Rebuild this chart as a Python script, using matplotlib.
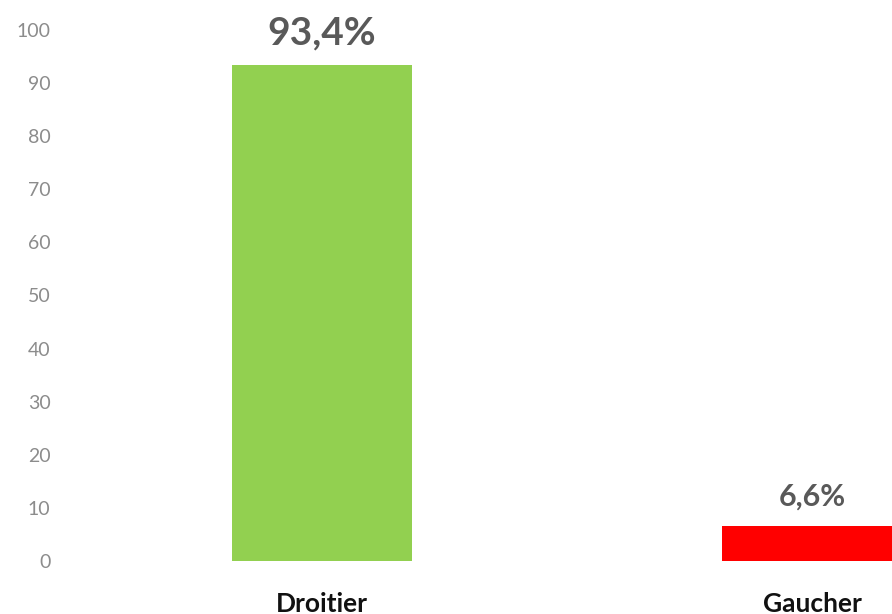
import matplotlib.pyplot as plt

# handedness split, in percent
categories = ['Droitier', 'Gaucher']
values = [93.4, 6.6]
value_labels = ['93,4%', '6,6%']
bar_colors = ['#92D050', '#FF0000']
y_ticks = [0, 10, 20, 30, 40, 50, 60, 70, 80, 90, 100]

plt.rcParams['font.family'] = ['Lato', 'DejaVu Sans']

fig = plt.figure(figsize=(8.92, 6.14), dpi=100)
ax = fig.add_axes([70 / 892, 53 / 614, 822 / 892, 531 / 614])

x = list(range(len(categories)))
bars = ax.bar(x, values, width=0.367, color=bar_colors, clip_on=False)

ax.set_xlim(-0.514, 1.163)
ax.set_ylim(0, 100)
ax.set_yticks(y_ticks)
ax.set_xticks(x)
ax.set_xticklabels(categories, fontsize=19, fontweight='bold', color='#111111')
ax.tick_params(axis='x', length=0, pad=22)
ax.tick_params(axis='y', length=0, pad=14, labelsize=14, labelcolor='#8c8c8c')

for spine in ax.spines.values():
    spine.set_visible(False)

# percentage labels above each bar
label_sizes = [28, 22]
for bar, text, size in zip(bars, value_labels, label_sizes):
    ax.annotate(text, (bar.get_x() + bar.get_width() / 2, bar.get_height()),
                xytext=(0, 15), textcoords='offset points',
                ha='center', va='baseline', fontsize=size,
                fontweight='bold', color='#595959', annotation_clip=False)

fig.savefig('out.png', dpi=100)
